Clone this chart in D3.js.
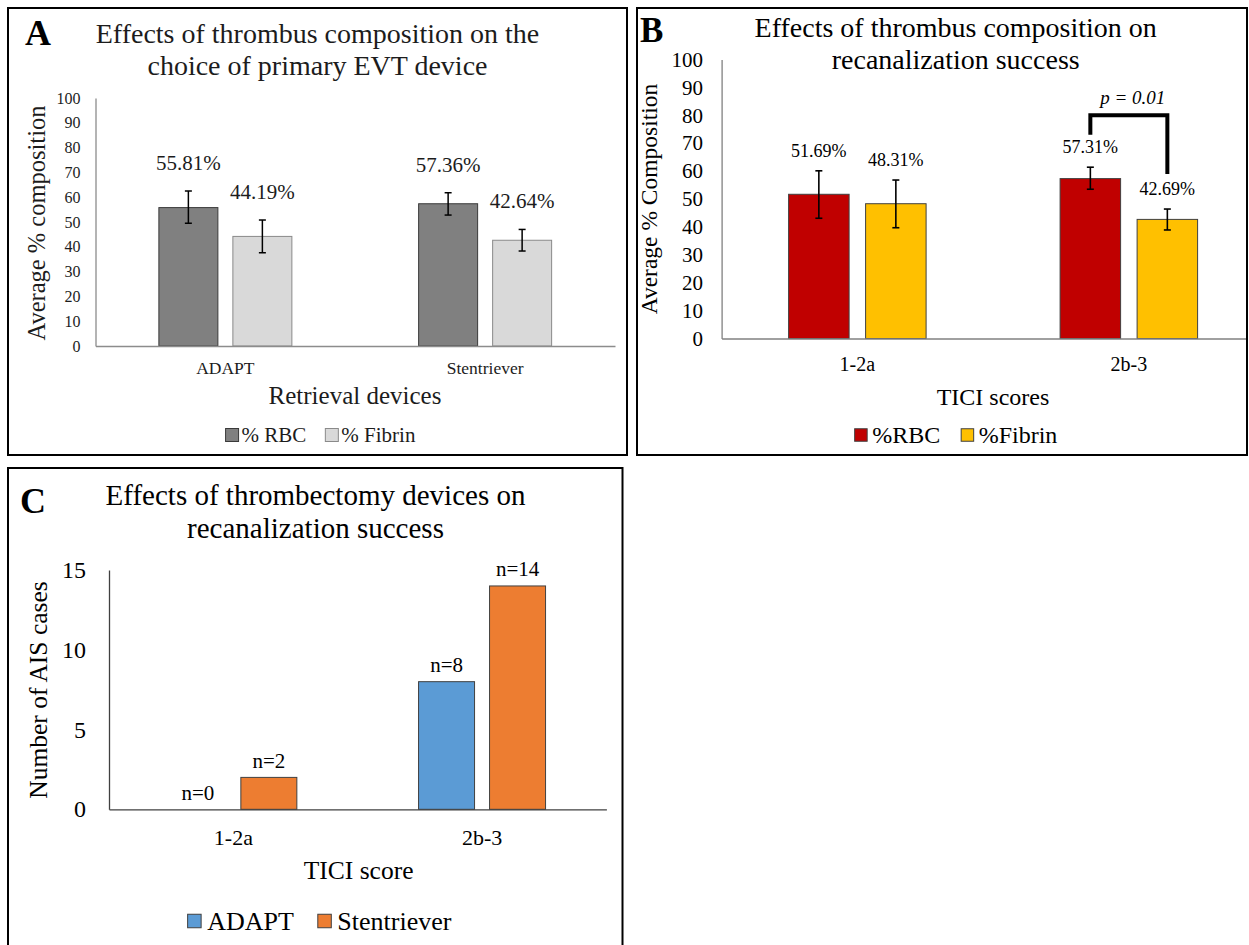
<!DOCTYPE html>
<html><head><meta charset="utf-8">
<script src="https://cdn.jsdelivr.net/npm/d3@7"></script>
<style>body{margin:0;background:#fff} svg{display:block}</style>
</head><body><svg id="c" width="1249" height="945" style="font-family:'Liberation Serif',serif"></svg>
<script>
// ---------- Panel A data ----------
const aCategories = ["ADAPT", "Stentriever"];
const aSeries = ["% RBC", "% Fibrin"];
const aRBC = [55.81, 57.36];
const aFibrin = [44.19, 42.64];
const aRBCErr = [[49.5, 62.5], [52.8, 61.8]];
const aFibrinErr = [[37.6, 50.8], [38.3, 47.0]];
const aTicks = [0, 10, 20, 30, 40, 50, 60, 70, 80, 90, 100];

// ---------- Panel B data ----------
const bCategories = ["1-2a", "2b-3"];
const bSeries = ["%RBC", "%Fibrin"];
const bRBC = [51.69, 57.31];
const bFibrin = [48.31, 42.69];
const bRBCErr = [[43.1, 60.1], [53.5, 61.4]];
const bFibrinErr = [[39.7, 56.8], [38.9, 46.4]];
const bTicks = [0, 10, 20, 30, 40, 50, 60, 70, 80, 90, 100];
const bBracket = [73, 80, 59]; // left end, top, right end (value units)
const bPText = "p = 0.01";

// ---------- Panel C data ----------
const cCategories = ["1-2a", "2b-3"];
const cSeries = ["ADAPT", "Stentriever"];
const cADAPT = [0, 8];
const cStentriever = [2, 14];
const cTicks = [0, 5, 10, 15];

const FONT = "'Liberation Serif', serif";
const svg = d3.select("#c");
svg.append("rect").attr("width", 1249).attr("height", 945).attr("fill", "#fff");
const defs = svg.append("defs");

function serif(sel) { return sel.style("font-family", FONT); }

function legend(g, items, cx, cy, o) {
  const lg = g.append("g");
  const parts = items.map(it => {
    const t = serif(lg.append("text")).text(it.label).attr("font-size", o.font).attr("fill", o.fill)
      .attr("y", cy + o.font * 0.33);
    return { it, t, w: t.node().getComputedTextLength() };
  });
  const total = d3.sum(parts, p => o.sq + o.tgap + p.w) + o.igap * (parts.length - 1);
  let x = cx - total / 2;
  parts.forEach(p => {
    lg.append("rect").attr("x", x).attr("y", cy - o.sq / 2).attr("width", o.sq).attr("height", o.sq)
      .attr("fill", p.it.color).attr("stroke", p.it.stroke).attr("stroke-width", 1);
    p.t.attr("x", x + o.sq + o.tgap);
    x += o.sq + o.tgap + p.w + o.igap;
  });
}

function panel(cfg) {
  const g = svg.append("g");
  const clipId = cfg.id + "clip";
  defs.append("clipPath").attr("id", clipId).append("rect")
    .attr("x", cfg.frame[0]).attr("y", cfg.frame[1]).attr("width", cfg.frame[2]).attr("height", cfg.frame[3]);
  const inner = g.append("g").attr("clip-path", `url(#${clipId})`);

  const x0 = d3.scaleBand().domain(cfg.categories).range([cfg.left, cfg.right]).padding(0);
  const span = 2 * cfg.barW + cfg.gap;
  const x1 = d3.scaleBand().domain(cfg.series).range([0, span])
    .paddingInner(cfg.gap / (cfg.barW + cfg.gap)).paddingOuter(0);
  const off = (x0.bandwidth() - span) / 2;
  const y = d3.scaleLinear().domain([0, cfg.ymax]).range([cfg.bottom, cfg.top]);
  const bx = (c, s) => x0(c) + off + x1(s);
  const cxf = (c, s) => bx(c, s) + x1.bandwidth() / 2;

  const rows = [];
  cfg.categories.forEach((c, i) => cfg.series.forEach((s, j) => rows.push({
    c, s, v: cfg.values[j][i], err: cfg.errs ? cfg.errs[j][i] : null,
    fill: cfg.colors[j], stroke: cfg.strokes[j]
  })));

  // bars
  inner.selectAll("rect.bar").data(rows.filter(d => d.v > 0)).join("rect").attr("class", "bar")
    .attr("x", d => bx(d.c, d.s)).attr("width", x1.bandwidth())
    .attr("y", d => y(d.v)).attr("height", d => y(0) - y(d.v))
    .attr("fill", d => d.fill).attr("stroke", d => d.stroke).attr("stroke-width", 1);

  // error bars
  if (cfg.errs) {
    const eg = inner.append("g").attr("stroke", "#000").attr("stroke-width", cfg.errW).attr("fill", "none");
    rows.forEach(d => {
      const cx = cxf(d.c, d.s);
      eg.append("line").attr("x1", cx).attr("x2", cx).attr("y1", y(d.err[0])).attr("y2", y(d.err[1]));
      [0, 1].forEach(k => eg.append("line").attr("x1", cx - cfg.cap).attr("x2", cx + cfg.cap)
        .attr("y1", y(d.err[k])).attr("y2", y(d.err[k])));
    });
  }

  // value labels
  serif(inner.selectAll("text.val").data(rows).join("text").attr("class", "val"))
    .attr("x", d => cxf(d.c, d.s))
    .attr("y", d => (cfg.errs ? y(d.err[1]) : y(d.v)) - cfg.labelOff + cfg.valFont * 0.33)
    .attr("text-anchor", "middle").attr("font-size", cfg.valFont).attr("fill", cfg.textFill)
    .text(d => cfg.fmt(d.v));

  // axes
  const ya = inner.append("g").attr("transform", `translate(${cfg.left},0)`)
    .call(d3.axisLeft(y).tickValues(cfg.ticks).tickSize(0).tickSizeOuter(0).tickPadding(cfg.yPad).tickFormat(d3.format("d")));
  ya.attr("font-family", null).attr("font-size", null);
  ya.select(".domain").attr("stroke", cfg.axisColor).attr("stroke-width", 1.3);
  serif(ya.selectAll("text")).attr("fill", cfg.textFill).attr("font-size", cfg.tickFont);

  const xa = inner.append("g").attr("transform", `translate(0,${cfg.bottom})`)
    .call(d3.axisBottom(x0).tickSize(0).tickSizeOuter(0).tickPadding(cfg.xPad));
  xa.attr("font-family", null).attr("font-size", null);
  xa.select(".domain").attr("stroke", cfg.axisColor).attr("stroke-width", 1.3);
  serif(xa.selectAll("text")).attr("fill", cfg.textFill).attr("font-size", cfg.catFont);

  // x title
  serif(g.append("text")).attr("x", cfg.xTitle[0]).attr("y", cfg.xTitle[1]).attr("text-anchor", "middle")
    .attr("font-size", cfg.xTitleFont).attr("fill", cfg.textFill).text(cfg.xTitleText);
  // y title
  serif(g.append("text")).attr("transform", `translate(${cfg.yTitle[0]},${cfg.yTitle[1]}) rotate(-90)`)
    .attr("text-anchor", "middle").attr("font-size", cfg.yTitleFont).attr("fill", cfg.textFill)
    .text(cfg.yTitleText);
  // chart title
  cfg.titleLines.forEach((t, i) => serif(g.append("text")).attr("x", cfg.titleX).attr("y", cfg.titleY[i])
    .attr("text-anchor", "middle").attr("font-size", cfg.titleFont).attr("fill", cfg.textFill).text(t));
  // panel letter
  serif(g.append("text")).attr("x", cfg.letter[0]).attr("y", cfg.letter[1]).attr("font-size", cfg.letterFont)
    .attr("font-weight", "bold").attr("fill", "#000").text(cfg.letterText);
  // legend
  legend(g, cfg.series.map((s, j) => ({ label: s, color: cfg.colors[j], stroke: cfg.strokes[j] })),
    cfg.legend[0], cfg.legend[1], cfg.legendOpts);
  // frame
  g.append("rect").attr("x", cfg.frame[0]).attr("y", cfg.frame[1]).attr("width", cfg.frame[2]).attr("height", cfg.frame[3])
    .attr("fill", "none").attr("stroke", "#000").attr("stroke-width", 2);

  return { g, x0, x1, y, cxf };
}

// ---------- Panel A ----------
panel({
  id: "A", frame: [8, 8, 619, 447],
  categories: aCategories, series: aSeries, values: [aRBC, aFibrin], errs: [aRBCErr, aFibrinErr],
  colors: ["#808080", "#d9d9d9"], strokes: ["#3a3a3a", "#8a8a8a"],
  left: 95.5, right: 615, top: 98, bottom: 346, ymax: 100, ticks: aTicks,
  barW: 59, gap: 15, errW: 1.5, cap: 3.5, labelOff: 28, valFont: 21,
  fmt: v => v.toFixed(2) + "%", textFill: "#1c1c1c", axisColor: "#8c8c8c",
  tickFont: 16, yPad: 15, catFont: 17.5, xPad: 15.4,
  xTitle: [355, 404], xTitleFont: 25, xTitleText: "Retrieval devices",
  yTitle: [45, 223], yTitleFont: 24.5, yTitleText: "Average % composition",
  titleLines: ["Effects of thrombus composition on the", "choice of primary EVT device"],
  titleX: 317.5, titleY: [43, 75], titleFont: 28,
  letter: [25, 45], letterFont: 36, letterText: "A",
  legend: [320.5, 435], legendOpts: { font: 21, sq: 13, tgap: 3, igap: 19, fill: "#1c1c1c" }
});

// ---------- Panel B ----------
const pb = panel({
  id: "B", frame: [637, 8, 610, 447],
  categories: bCategories, series: bSeries, values: [bRBC, bFibrin], errs: [bRBCErr, bFibrinErr],
  colors: ["#c00000", "#ffc000"], strokes: ["#404040", "#404040"],
  left: 721.6, right: 1264.6, top: 59.5, bottom: 338.5, ymax: 100, ticks: bTicks,
  barW: 60.5, gap: 16.5, errW: 1.6, cap: 3.5, labelOff: 20, valFont: 18,
  fmt: v => v.toFixed(2) + "%", textFill: "#000", axisColor: "#808080",
  tickFont: 21, yPad: 18.5, catFont: 20, xPad: 17.9,
  xTitle: [993, 404.5], xTitleFont: 24, xTitleText: "TICI scores",
  yTitle: [656.5, 199], yTitleFont: 23.5, yTitleText: "Average % Composition",
  titleLines: ["Effects of thrombus composition on", "recanalization success"],
  titleX: 955.7, titleY: [37, 69], titleFont: 28,
  letter: [640, 42], letterFont: 35, letterText: "B",
  legend: [956, 435], legendOpts: { font: 24, sq: 12.5, tgap: 5, igap: 21, fill: "#000" }
});
// significance bracket
{
  const xl = pb.cxf(bCategories[1], bSeries[0]);
  const xr = pb.cxf(bCategories[1], bSeries[1]);
  pb.g.append("path")
    .attr("d", `M${xl},${pb.y(bBracket[0])}V${pb.y(bBracket[1])}H${xr}V${pb.y(bBracket[2])}`)
    .attr("fill", "none").attr("stroke", "#000").attr("stroke-width", 4).attr("stroke-linejoin", "miter");
  serif(pb.g.append("text")).attr("x", (xl + xr) / 2 + 4).attr("y", pb.y(bBracket[1]) - 11)
    .attr("text-anchor", "middle").attr("font-size", 19).attr("font-style", "italic").text(bPText);
}

// ---------- Panel C ----------
panel({
  id: "C", frame: [8, 468, 614.5, 500],
  categories: cCategories, series: cSeries, values: [cADAPT, cStentriever], errs: null,
  colors: ["#5b9bd5", "#ed7d31"], strokes: ["#404040", "#404040"],
  left: 109, right: 606.4, top: 570, bottom: 809.3, ymax: 15, ticks: cTicks,
  barW: 56, gap: 15, labelOff: 16.5, valFont: 21,
  fmt: v => "n=" + v, textFill: "#000", axisColor: "#404040",
  tickFont: 24, yPad: 23, catFont: 22, xPad: 20,
  xTitle: [358.6, 878.5], xTitleFont: 25.5, xTitleText: "TICI score",
  yTitle: [46.5, 690], yTitleFont: 25.5, yTitleText: "Number of AIS cases",
  titleLines: ["Effects of thrombectomy devices on", "recanalization success"],
  titleX: 315.5, titleY: [505, 538.3], titleFont: 29,
  letter: [20, 513], letterFont: 36, letterText: "C",
  legend: [319.5, 921], legendOpts: { font: 26, sq: 13.5, tgap: 6, igap: 24, fill: "#000" }
});
</script></body></html>
